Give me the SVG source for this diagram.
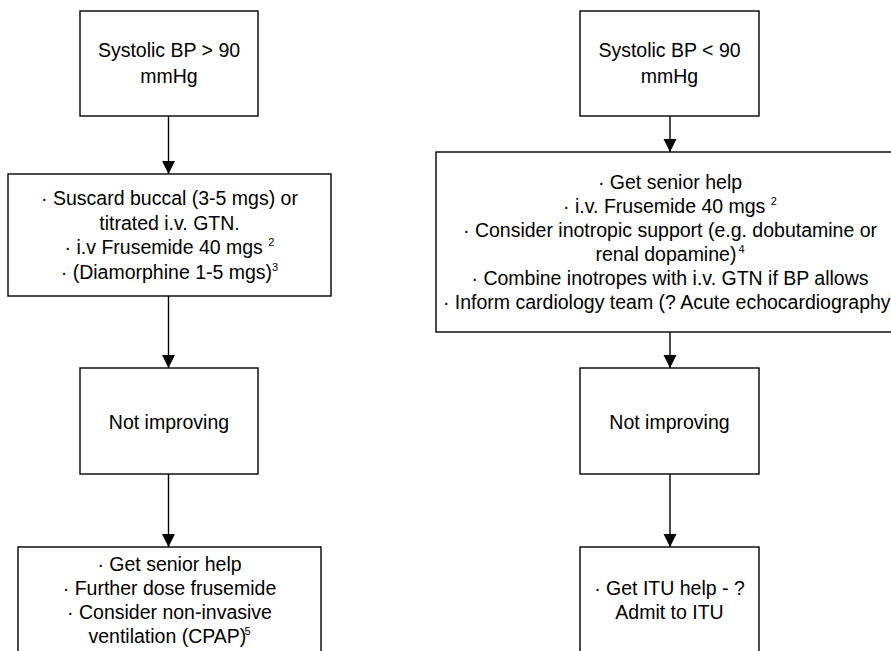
<svg xmlns="http://www.w3.org/2000/svg" width="891" height="651" viewBox="0 0 891 651">
<style>
.box{fill:#fff;stroke:#000;stroke-width:1.4}
.t{font-family:"Liberation Sans",Arial,sans-serif;font-size:19.5px;fill:#000;text-anchor:middle}
.sup{font-size:11px}
.edge{stroke:#000;stroke-width:1.4;fill:none}
</style>
<defs>
<marker id="ah" markerUnits="userSpaceOnUse" markerWidth="14" markerHeight="14" viewBox="0 0 14 14" refX="13" refY="7" orient="auto">
<path d="M0,0.5 L13,7 L0,13.5 Z" fill="#000"/>
</marker>
</defs>
<rect width="891" height="651" fill="#fff"/>
<g id="connectors">
<line class="edge" x1="168.5" y1="116" x2="168.5" y2="174" marker-end="url(#ah)"/>
<line class="edge" x1="168.5" y1="296" x2="168.5" y2="368" marker-end="url(#ah)"/>
<line class="edge" x1="168.5" y1="474" x2="168.5" y2="547" marker-end="url(#ah)"/>
<line class="edge" x1="670" y1="116" x2="670" y2="152" marker-end="url(#ah)"/>
<line class="edge" x1="670" y1="332" x2="670" y2="368" marker-end="url(#ah)"/>
<line class="edge" x1="670" y1="474" x2="670" y2="547" marker-end="url(#ah)"/>
</g>
<g id="node-l1">
<rect class="box" x="80" y="11" width="178" height="105"/>
<text class="t" x="169" y="57">Systolic BP &gt; 90</text>
<text class="t" x="169" y="83">mmHg</text>
</g>
<g id="node-l2">
<rect class="box" x="8" y="174" width="323" height="122"/>
<text class="t" x="169.5" y="204.5">· Suscard buccal (3-5 mgs) or</text>
<text class="t" x="169.5" y="229.5">titrated i.v. GTN.</text>
<text class="t" x="169.5" y="254">· i.v Frusemide 40 mgs <tspan class="sup" dy="-8">2</tspan></text>
<text class="t" x="169.5" y="278.5">· (Diamorphine 1-5 mgs)<tspan class="sup" dy="-8">3</tspan></text>
</g>
<g id="node-l3">
<rect class="box" x="80" y="368" width="178" height="106"/>
<text class="t" x="169" y="429">Not improving</text>
</g>
<g id="node-l4">
<rect class="box" x="18" y="547" width="303" height="130"/>
<text class="t" x="169.5" y="570.5">· Get senior help</text>
<text class="t" x="169.5" y="594.5">· Further dose frusemide</text>
<text class="t" x="169.5" y="618.5">· Consider non-invasive</text>
<text class="t" x="169.5" y="642.5">ventilation (CPAP)<tspan class="sup" dx="-2" dy="-8">5</tspan></text>
</g>
<g id="node-r1">
<rect class="box" x="580" y="11" width="179" height="105"/>
<text class="t" x="669.5" y="57">Systolic BP &lt; 90</text>
<text class="t" x="669.5" y="83">mmHg</text>
</g>
<g id="node-r2">
<rect class="box" x="436" y="152" width="470" height="180"/>
<text class="t" x="670" y="188.5">· Get senior help</text>
<text class="t" x="670" y="212.5">· i.v. Frusemide 40 mgs <tspan class="sup" dy="-8">2</tspan></text>
<text class="t" x="670" y="236.5">· Consider inotropic support (e.g. dobutamine or</text>
<text class="t" x="670" y="260.5">renal dopamine)<tspan class="sup" dx="2" dy="-8">4</tspan></text>
<text class="t" x="670" y="284.5">· Combine inotropes with i.v. GTN if BP allows</text>
<text class="t" x="670" y="308.5">· Inform cardiology team (? Acute echocardiography)</text>
</g>
<g id="node-r3">
<rect class="box" x="580" y="368" width="179" height="106"/>
<text class="t" x="669.5" y="429">Not improving</text>
</g>
<g id="node-r4">
<rect class="box" x="580" y="547" width="179" height="130"/>
<text class="t" x="669.5" y="595">· Get ITU help - ?</text>
<text class="t" x="669.5" y="618.5">Admit to ITU</text>
</g>
</svg>
